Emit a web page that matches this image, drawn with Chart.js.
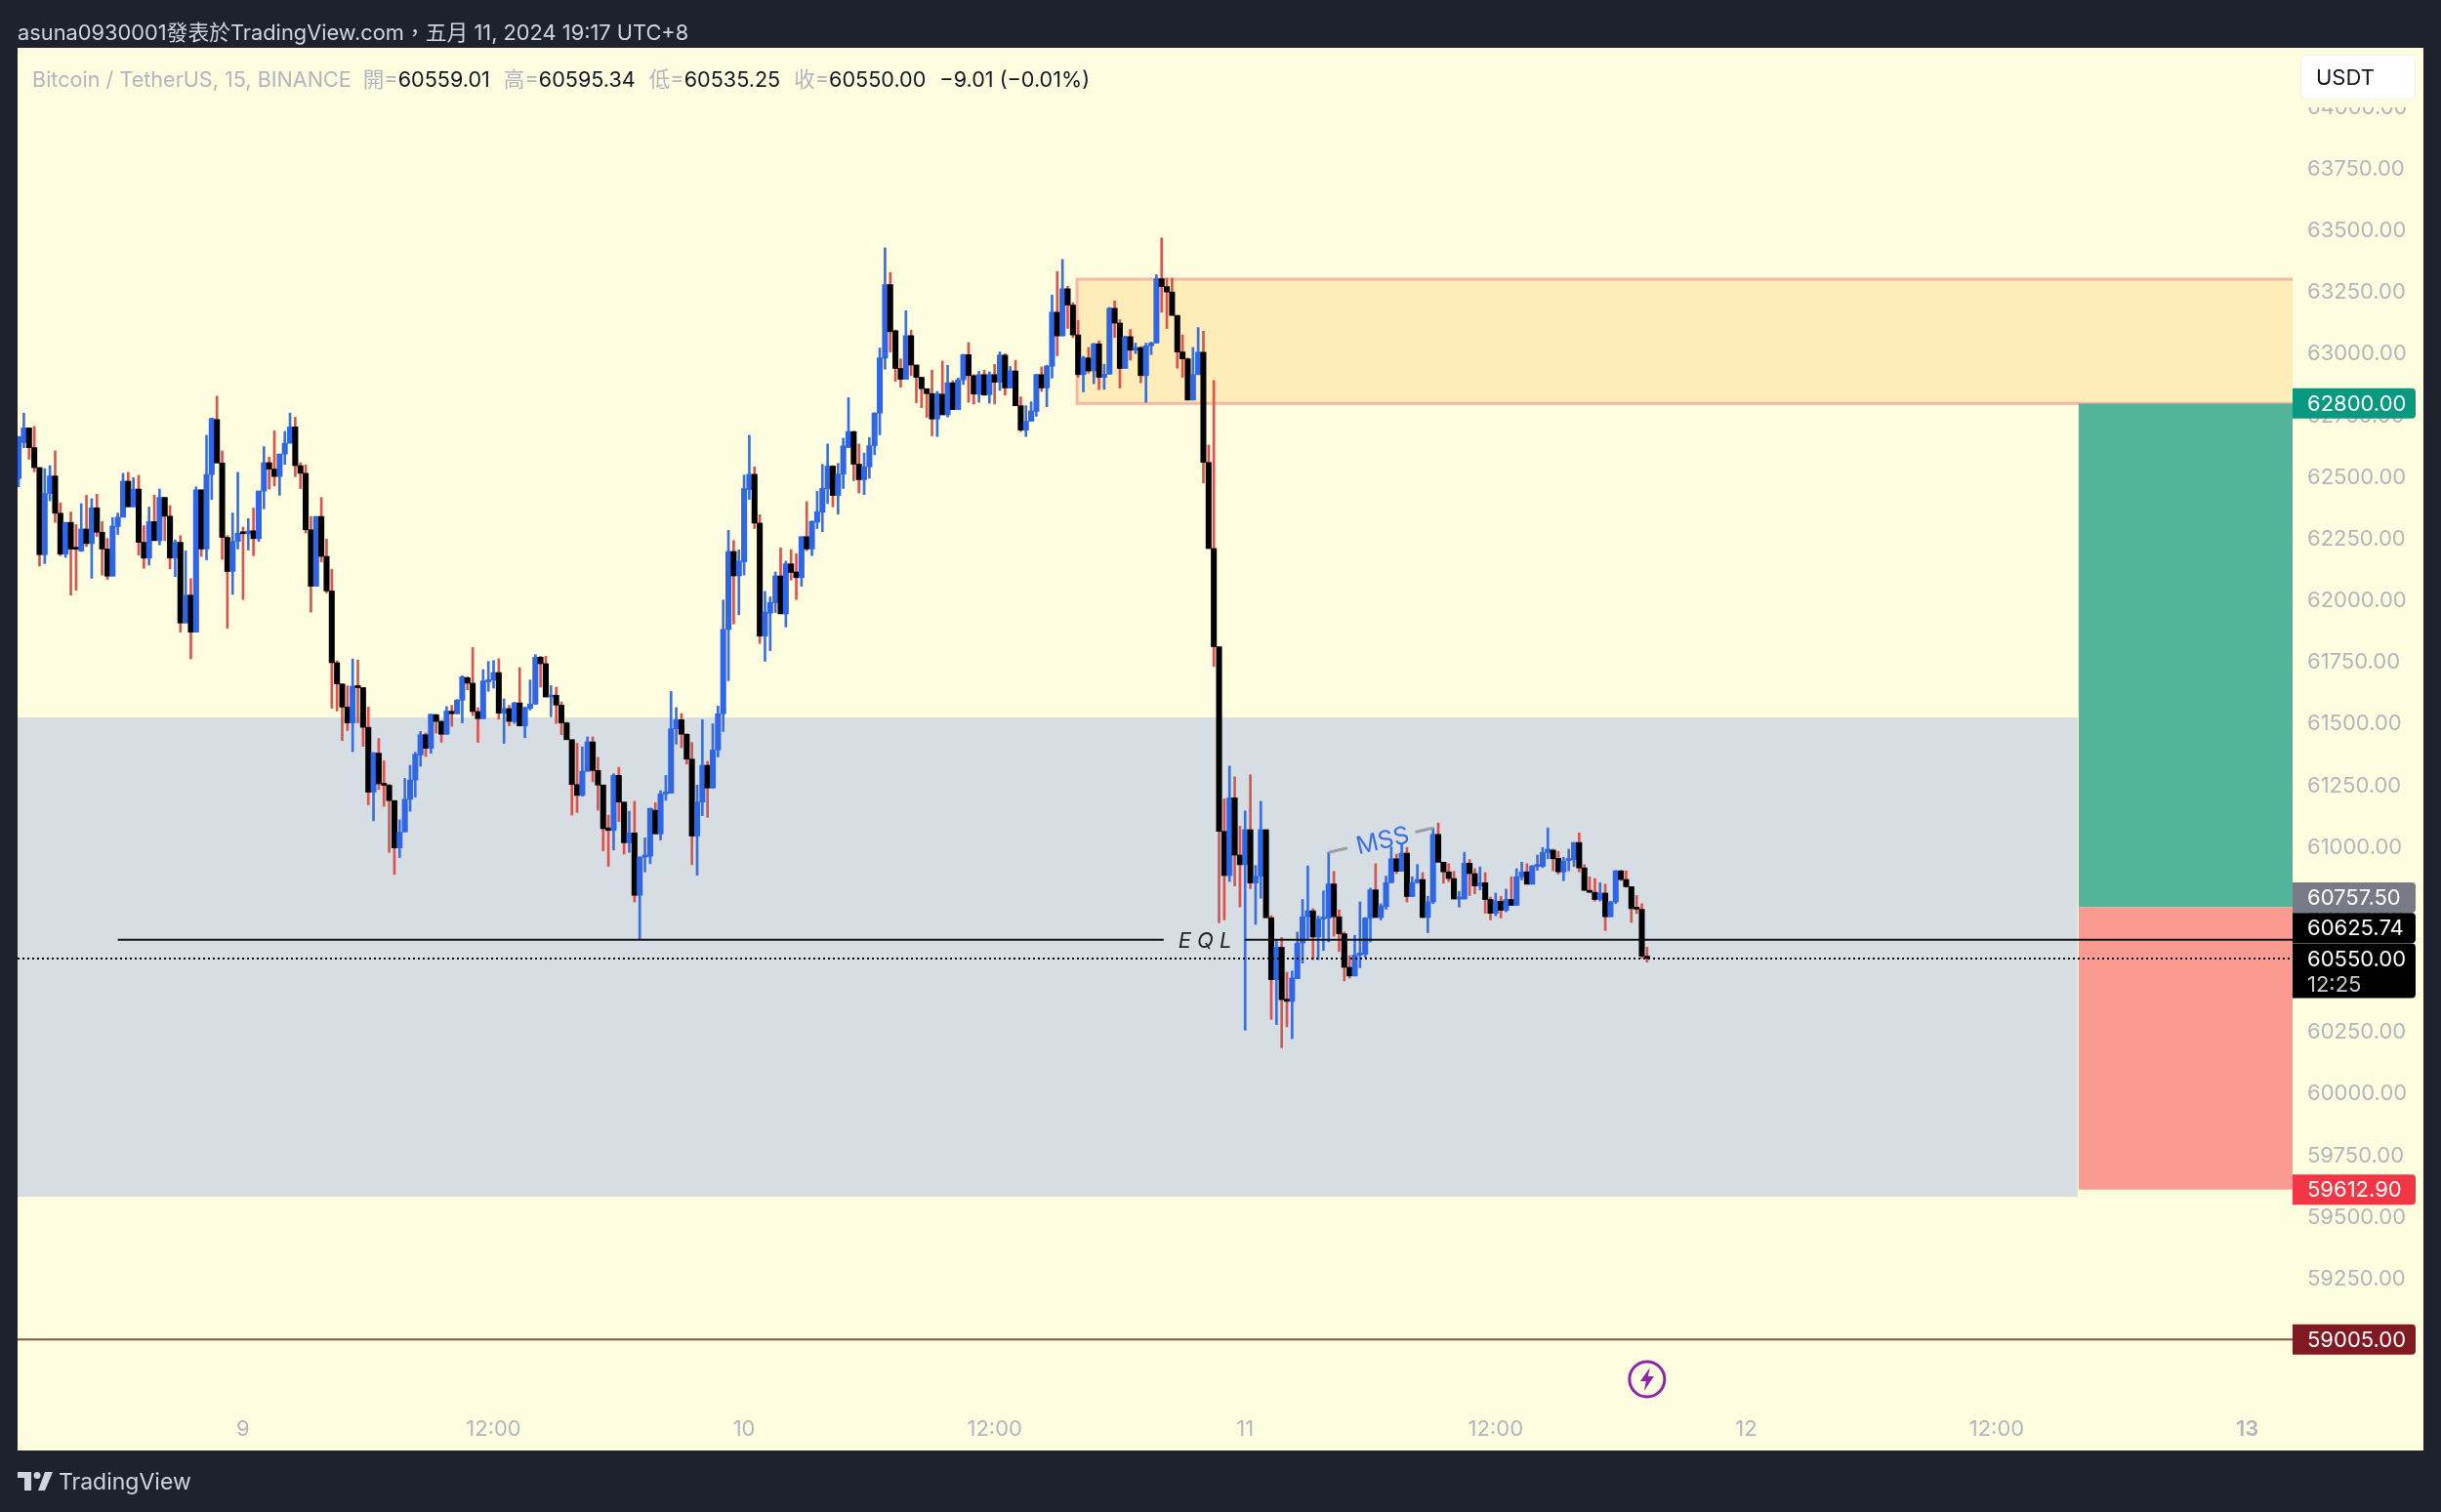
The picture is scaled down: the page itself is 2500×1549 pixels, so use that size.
<!DOCTYPE html>
<html>
<head>
<meta charset="utf-8">
<script src="https://cdn.jsdelivr.net/npm/chart.js@4"></script>
<style>
  html, body { margin: 0; padding: 0; background: #1e222d; }
  body { width: 2500px; height: 1549px; position: relative; overflow: hidden; font-family: Inter, "Noto Sans CJK TC", sans-serif; }
  #panel { position: absolute; left: 18px; top: 49px; width: 2464px; height: 1437px; background: #fffddf; }
  canvas { position: absolute; left: 0; top: 0; }
  #title { position: absolute; left: 18px; top: 19px; font-size: 21.8px; line-height: 28px; color: #d1d4dc; white-space: nowrap; }
  #legend { position: absolute; left: 33px; top: 67px; font-size: 21.6px; line-height: 28px; color: #b2b5be; white-space: nowrap; }
  #legend b { font-weight: 400; color: #131722; }
  #legend span { margin-left: 12px; }
  #legend span + span { margin-left: 14px; }
  #unit { position: absolute; left: 2356px; top: 56px; width: 116px; height: 44px; background: #fff; border: 1px solid #f0f3e6; border-radius: 6px; font-size: 22px; line-height: 44px; color: #131722; text-indent: 15px; box-shadow: 0 8px 0 #fffddf; }
  #footer { position: absolute; left: 60px; top: 1504px; font-size: 23px; line-height: 28px; color: #d1d4dc; }
  #logo { position: absolute; left: 18px; top: 1508px; }
</style>
</head>
<body>
<div id="panel"></div>
<canvas id="chart" width="2500" height="1549"></canvas>
<div id="title">asuna0930001發表於TradingView.com，五月 11, 2024 19:17 UTC+8</div>
<div id="legend">Bitcoin / TetherUS, 15, BINANCE<span>開=<b>60559.01</b></span><span>高=<b>60595.34</b></span><span>低=<b>60535.25</b></span><span>收=<b>60550.00</b></span><span><b>−9.01 (−0.01%)</b></span></div>
<div id="unit">USDT</div>
<svg id="logo" width="36" height="19" viewBox="0 0 36 19" fill="#d1d4dc"><path d="M14 0H0v6h7v13h7V0Zm14 19h-7l7-19h8l-8 19Z"/><circle cx="20" cy="3.5" r="3.5"/></svg>
<div id="footer">TradingView</div>
<script>
// candles, 15 min each. index 0 = 9th 00:00, first candle on screen is -43
const firstCandle = -43;
const opens = [
  62496,62642,62701,62621,62540,62187,62435,62506,62355,62189,
  62318,62214,62202,62291,62232,62377,62278,62210,62100,62301,
  62339,62485,62381,62453,62237,62173,62321,62244,62419,62343,
  62173,62237,61910,62023,61873,62450,62210,62512,62735,62559,
  62257,62119,62241,
  62276,62272,62284,62252,62445,62560,62534,62504,62595,62639,
  62705,62548,62517,62288,62059,62342,62180,62040,61749,61663,
  61569,61505,61654,61648,61487,61224,61382,61258,61252,61190,
  60998,61063,61195,61273,61375,61457,61402,61538,61511,61459,
  61552,61542,61597,61688,61666,61551,61522,61672,61679,61709,
  61544,61563,61511,61586,61493,61564,61581,61771,61745,61610,
  61617,61577,61505,61437,61255,61211,61309,61428,61312,61253,
  61079,61069,61292,61184,61019,61059,60806,60961,60964,61151,
  61055,61217,61220,61481,61518,61459,61358,61046,61184,61333,
  61241,61395,61542,61884,62200,62101,62158,62451,62513,62315,
  61857,61950,61992,62101,61947,62150,62117,62094,62260,62210,
  62319,62359,62454,62546,62427,62514,62622,62686,62554,62491,
  62543,62629,62761,62984,63282,63095,62942,62898,63075,62956,
  62906,62860,62840,62737,62838,62754,62884,62775,62896,62998,
  62913,62838,62917,62836,62917,62886,62996,62863,62932,62791,
  62692,62728,62768,62917,62863,62951,63170,63074,63265,63199,
  63078,62917,62985,62932,63042,62906,62919,63186,63126,62942,
  63071,63016,63027,62913,63034,63045,63306,63274,63252,63157,
  63009,62981,62814,62917,63008,62561,62212,61814,61065,60886,
  61201,60969,60930,61072,60856,60883,61072,60715,60464,60595,
  60385,60376,60468,60613,60719,60743,60637,60710,60714,60852,
  60719,60650,60514,60479,60564,60567,60714,60828,60716,60760,
  60857,60954,60903,60977,60801,60857,60870,60716,60779,61053,
  60940,60901,60874,60791,60791,60936,60894,60844,60857,60789,
  60733,60782,60745,60789,60765,60881,60901,60851,60923,60923,
  60980,60989,60956,60901,60947,60950,61020,60917,60826,60818,
  60789,60815,60719,60779,60905,60870,60841,60754,60749,60559.01
];
const highs = [
  62666,62761,62701,62707,62540,62536,62548,62608,62397,62318,
  62360,62309,62394,62428,62414,62432,62321,62253,62337,62356,
  62517,62521,62499,62509,62305,62380,62428,62453,62419,62386,
  62247,62264,62202,62090,62462,62450,62671,62741,62830,62608,
  62264,62356,62521,
  62299,62333,62376,62445,62625,62582,62689,62595,62687,62761,
  62744,62560,62551,62342,62342,62419,62250,62128,61757,61663,
  61655,61764,61760,61648,61569,61385,61442,61351,61256,61190,
  61112,61280,61333,61386,61470,61464,61540,61540,61513,61571,
  61576,61600,61696,61692,61811,61567,61721,61754,61758,61765,
  61602,61576,61589,61729,61569,61679,61782,61775,61775,61656,
  61650,61590,61508,61437,61422,61408,61448,61448,61365,61253,
  61131,61299,61325,61184,61147,61187,60963,61039,61160,61182,
  61230,61292,61633,61567,61543,61461,61426,61253,61518,61349,
  61501,61573,62003,62286,62244,62207,62510,62671,62543,62349,
  62038,62016,62117,62214,62161,62207,62191,62260,62402,62324,
  62444,62553,62636,62548,62557,62659,62824,62688,62636,62599,
  62662,62763,63025,63431,63331,63098,62981,63176,63097,62956,
  62906,62860,62935,62849,62972,62955,62893,62903,63000,63047,
  62917,62930,62935,62928,62959,63009,63002,62950,62975,62827,
  62791,62807,62919,62948,62955,63240,63335,63384,63275,63209,
  63137,62992,63027,63044,63054,62959,63190,63216,63140,63073,
  63100,63045,63031,63045,63049,63322,63471,63308,63308,63157,
  63078,62985,63027,63108,63093,62632,62893,61814,61197,61330,
  61286,61086,61148,61295,60927,61187,61072,60724,60623,60635,
  60494,60499,60657,60789,60925,60752,60722,60824,60980,60903,
  60747,60657,60562,60644,60779,60716,60835,60934,60772,60884,
  61002,60973,61013,61000,60881,60931,60898,60802,61079,61099,
  60940,60934,60903,60822,60980,60951,60914,60921,60898,60799,
  60815,60802,60831,60881,60914,60940,60934,60927,60969,61000,
  61079,60993,60984,60960,60993,61020,61059,60930,60881,60874,
  60857,60851,60782,60907,60907,60905,60841,60805,60772,60595.34
];
const lows = [
  62462,62621,62574,62523,62141,62151,62405,62318,62183,62176,
  62023,62043,62200,62220,62091,62261,62104,62087,62100,62269,
  62339,62381,62381,62185,62132,62145,62244,62227,62244,62130,
  62098,61873,61910,61765,61873,62180,62166,62411,62559,62168,
  61889,62026,62210,
  62005,62206,62183,62241,62373,62453,62466,62428,62553,62639,
  62503,62455,62275,61954,62059,62158,62032,61565,61553,61433,
  61474,61388,61505,61410,61173,61108,61235,61167,60980,60891,
  60959,61063,61147,61204,61329,61369,61382,61464,61426,61459,
  61491,61542,61505,61639,61534,61426,61522,61633,61646,61520,
  61422,61493,61503,61493,61445,61557,61581,61650,61610,61530,
  61503,61457,61437,61131,61142,61208,61309,61266,61151,60986,
  60924,60990,61105,60973,60980,60779,60626,60901,60934,61055,
  61030,61191,61220,61419,61404,61338,60930,60887,61129,61122,
  61241,61367,61470,61676,61906,61943,62104,62411,62293,61827,
  61755,61798,61952,61947,61894,62084,62005,62059,62203,62183,
  62293,62280,62394,62381,62352,62455,62622,62487,62437,62431,
  62497,62592,62673,62939,63009,62890,62866,62898,62913,62803,
  62783,62744,62669,62666,62754,62745,62775,62775,62877,62805,
  62798,62805,62834,62801,62798,62853,62834,62863,62791,62686,
  62666,62728,62748,62849,62787,62903,62993,63074,63104,63067,
  62906,62847,62923,62880,62856,62857,62919,63068,62863,62942,
  62976,63002,62884,62805,62998,63045,63170,63104,63157,62943,
  62906,62814,62814,62917,62478,62212,61734,60694,60706,60862,
  60844,60759,60259,60833,60688,60794,60715,60303,60282,60188,
  60273,60225,60468,60531,60630,60545,60545,60582,60617,60640,
  60578,60459,60470,60479,60512,60554,60617,60716,60706,60749,
  60857,60894,60903,60779,60801,60855,60716,60654,60772,60940,
  60855,60861,60791,60758,60791,60805,60812,60828,60733,60706,
  60723,60714,60739,60765,60765,60868,60851,60851,60907,60918,
  60954,60905,60892,60865,60905,60923,60901,60826,60818,60782,
  60782,60663,60719,60772,60865,60838,60696,60732,60551,60535.25
];
const closes = [
  62666,62701,62621,62540,62187,62435,62506,62355,62189,62318,
  62210,62209,62291,62232,62377,62278,62210,62100,62303,62339,
  62485,62381,62453,62237,62173,62321,62244,62419,62343,62173,
  62237,61910,62023,61873,62450,62210,62512,62739,62559,62257,
  62119,62241,62274,
  62272,62283,62252,62445,62560,62534,62504,62595,62639,62705,
  62548,62517,62288,62059,62342,62180,62040,61749,61663,61569,
  61505,61654,61648,61487,61224,61384,61258,61252,61190,60998,
  61062,61195,61273,61378,61457,61402,61540,61511,61459,61553,
  61542,61597,61692,61666,61551,61522,61675,61679,61709,61544,
  61563,61511,61586,61493,61567,61581,61771,61745,61610,61617,
  61577,61505,61437,61255,61211,61309,61428,61312,61253,61076,
  61069,61292,61184,61019,61059,60806,60960,60967,61158,61055,
  61217,61224,61481,61518,61459,61358,61046,61184,61333,61241,
  61395,61542,61884,62200,62101,62161,62455,62513,62315,61857,
  61954,61993,62101,61947,62150,62115,62094,62260,62210,62322,
  62361,62456,62546,62427,62514,62628,62686,62554,62491,62543,
  62629,62761,62985,63282,63091,62942,62898,63075,62956,62906,
  62860,62840,62737,62840,62754,62884,62775,62896,62998,62913,
  62838,62917,62834,62917,62886,62996,62863,62932,62791,62692,
  62728,62770,62917,62863,62952,63170,63074,63265,63199,63078,
  62917,62985,62932,63042,62906,62919,63186,63126,62942,63071,
  63016,63027,62913,63034,63045,63306,63274,63252,63157,63009,
  62981,62814,62917,63008,62561,62212,61814,61065,60886,61201,
  60969,60930,61072,60856,60883,61072,60715,60464,60595,60383,
  60376,60471,60611,60719,60743,60637,60710,60714,60852,60719,
  60650,60514,60479,60564,60571,60714,60828,60716,60762,60857,
  60954,60903,60977,60801,60857,60870,60716,60779,61053,60940,
  60901,60874,60791,60795,60936,60894,60844,60857,60789,60733,
  60782,60745,60789,60765,60881,60901,60851,60925,60931,60980,
  60993,60954,60901,60944,60954,61020,60917,60826,60818,60789,
  60815,60719,60779,60905,60870,60841,60752,60750,60559,60550.00
];

const xTickValues = [0, 48, 96, 144, 192, 240, 288, 336, 384];
const xTickLabels = ['9', '12:00', '10', '12:00', '11', '12:00', '12', '12:00', '13'];
const yTickValues = [59000, 59250, 59500, 59750, 60000, 60250, 60500, 60750, 61000, 61250, 61500,
  61750, 62000, 62250, 62500, 62750, 63000, 63250, 63500, 63750, 64000];

// drawn objects, in candle index and price
const marketZone = [351.5, 61527, 59584];     // right end, top, bottom
const supplyZone = [159.8, 63304, 62800];     // left end, top, bottom
const longLevels = [351.7, 62800, 60757.5, 59612.9];   // left end, target, entry, stop
const eqlLevel = 60625.74;
const eqlSpan = [-24, 176.4, 192];            // start, gap from, gap to
const lastPrice = 60550;
const lowLevel = 59005;
const mssFrom = [208, 60980];
const mssTo = [228, 61079];

const tagPrices = [62800, 60757.5, 60625.74, 60550, 59612.9, 59005];
const tagColors = ['#089981', '#787b86', '#000000', '#000000', '#f23645', '#801922'];
const tagShift = [0, -10, -12, 0, 0, 0];

const xMin = -43.2, xMax = 392.5;
const yMin = 58737, yMax = 64242;

const candleX = opens.map((v, i) => firstCandle + i);
const isUp = opens.map((v, i) => closes[i] >= v);

const overlays = {
  id: 'overlays',
  beforeDatasetsDraw(chart) {
    const ctx = chart.ctx, x = chart.scales.x, y = chart.scales.y;
    const px = v => x.getPixelForValue(v), py = v => y.getPixelForValue(v);
    const left = chart.chartArea.left, right = chart.chartArea.right + 1;
    ctx.save();
    ctx.fillStyle = '#d6dde3';
    ctx.fillRect(left, py(marketZone[1]), px(marketZone[0]) - left, py(marketZone[2]) - py(marketZone[1]));
    ctx.fillStyle = '#ffedb9';
    ctx.fillRect(px(supplyZone[0]), py(supplyZone[1]), right - px(supplyZone[0]), py(supplyZone[2]) - py(supplyZone[1]));
    // no right edge on the supply box, it runs into the price axis
    ctx.strokeStyle = '#f5b8a4';
    ctx.lineWidth = 3;
    ctx.beginPath();
    ctx.moveTo(right, py(supplyZone[1]));
    ctx.lineTo(px(supplyZone[0]), py(supplyZone[1]));
    ctx.lineTo(px(supplyZone[0]), py(supplyZone[2]));
    ctx.lineTo(right, py(supplyZone[2]));
    ctx.stroke();
    // long position
    const lx = px(longLevels[0]);
    ctx.fillStyle = '#52b59b';
    ctx.fillRect(lx, py(longLevels[1]), right - lx, py(longLevels[2]) - py(longLevels[1]));
    ctx.fillStyle = '#fb9a91';
    ctx.fillRect(lx, py(longLevels[2]), right - lx, py(longLevels[3]) - py(longLevels[2]));
    ctx.restore();
  },
  afterDraw(chart) {
    const ctx = chart.ctx, x = chart.scales.x, y = chart.scales.y;
    const px = v => x.getPixelForValue(v), py = v => y.getPixelForValue(v);
    const left = chart.chartArea.left, right = chart.chartArea.right + 1;
    ctx.save();
    // horizontal levels
    ctx.strokeStyle = '#111';
    ctx.lineWidth = 2;
    ctx.beginPath();
    ctx.moveTo(px(eqlSpan[0]), py(eqlLevel));
    ctx.lineTo(px(eqlSpan[1]), py(eqlLevel));
    ctx.moveTo(px(eqlSpan[2]), py(eqlLevel));
    ctx.lineTo(right, py(eqlLevel));
    ctx.stroke();
    ctx.setLineDash([2, 3]);
    ctx.strokeStyle = '#000';
    ctx.beginPath();
    ctx.moveTo(left, py(lastPrice));
    ctx.lineTo(right, py(lastPrice));
    ctx.stroke();
    ctx.setLineDash([]);
    ctx.strokeStyle = '#7a5c45';
    ctx.beginPath();
    ctx.moveTo(left, py(lowLevel));
    ctx.lineTo(right, py(lowLevel));
    ctx.stroke();

    ctx.fillStyle = '#222';
    ctx.font = 'italic 22px Inter';
    ctx.textAlign = 'center';
    ctx.textBaseline = 'middle';
    ctx.fillText('E Q L', px(184.3), py(eqlLevel) + 2);

    // MSS line with the gap for its text
    const ax = px(mssFrom[0]), ay = py(mssFrom[1]), bx = px(mssTo[0]), by = py(mssTo[1]);
    ctx.strokeStyle = '#9a9ea6';
    ctx.lineWidth = 3;
    ctx.beginPath();
    ctx.moveTo(ax, ay);
    ctx.lineTo(ax + (bx - ax) * 0.18, ay + (by - ay) * 0.18);
    ctx.moveTo(ax + (bx - ax) * 0.83, ay + (by - ay) * 0.83);
    ctx.lineTo(bx, by);
    ctx.stroke();
    ctx.save();
    ctx.translate((ax + bx) / 2 + 2, (ay + by) / 2 + 1);
    ctx.rotate(Math.atan2(by - ay, bx - ax));
    ctx.fillStyle = '#3b6fe0';
    ctx.font = '25px Inter';
    ctx.fillText('MSS', 0, 0);
    ctx.restore();

    // lightning mark under last candle
    const mx = px(269), my = 1413;
    ctx.strokeStyle = '#8e24aa';
    ctx.fillStyle = '#fffddf';
    ctx.lineWidth = 3;
    ctx.beginPath();
    ctx.arc(mx, my, 18, 0, Math.PI * 2);
    ctx.fill();
    ctx.stroke();
    ctx.fillStyle = '#8e24aa';
    ctx.beginPath();
    ctx.moveTo(mx + 3, my - 12);
    ctx.lineTo(mx - 7, my + 2);
    ctx.lineTo(mx - 1, my + 2);
    ctx.lineTo(mx - 3, my + 12);
    ctx.lineTo(mx + 7, my - 3);
    ctx.lineTo(mx + 1, my - 3);
    ctx.closePath();
    ctx.fill();

    // price tags
    ctx.textAlign = 'left';
    ctx.font = '22px Inter';
    tagPrices.forEach((p, i) => {
      const c = py(p) + tagShift[i];
      const h = i === 3 ? 56 : 31;
      ctx.fillStyle = tagColors[i];
      ctx.beginPath();
      ctx.roundRect(right, c - 15.5, 126, h, [0, 4, 4, 0]);
      ctx.fill();
      ctx.fillStyle = '#fff';
      ctx.fillText(p.toFixed(2), 2363, c + 1);
      if (i === 3) {
        ctx.fillStyle = '#c8cad0';
        ctx.fillText('12:25', 2363, c + 27);
      }
    });
    ctx.restore();
  }
};

new Chart(document.getElementById('chart'), {
  type: 'bar',
  data: {
    datasets: [{
      label: 'wick',
      order: 2,
      data: candleX.map((k, i) => ({x: k, y: [lows[i], highs[i]]})),
      backgroundColor: isUp.map(u => u ? '#3a6fdc' : '#d9534f'),
      barThickness: 2
    }, {
      label: 'body',
      order: 1,
      data: candleX.map((k, i) => ({x: k, y: [opens[i], closes[i]]})),
      backgroundColor: isUp.map(u => u ? '#2f66e5' : '#000000'),
      barThickness: 5.4,
      minBarLength: 2
    }]
  },
  options: {
    responsive: false,
    animation: false,
    devicePixelRatio: 1,
    grouped: false,
    layout: {padding: {left: 18, top: 49, right: 0, bottom: 64}},
    plugins: {legend: {display: false}, tooltip: {enabled: false}},
    scales: {
      x: {
        type: 'linear',
        offset: false,
        min: xMin,
        max: xMax,
        grid: {display: false},
        border: {display: false},
        afterFit: s => { s.height = 45; },
        afterBuildTicks: s => { s.ticks = xTickValues.map(v => ({value: v})); },
        ticks: {
          autoSkip: false,
          maxRotation: 0,
          padding: 3,
          color: '#b2b5be',
          font: c => ({family: 'Inter', size: 22, weight: c.tick && c.tick.value === 384 ? '600' : '400'}),
          callback: v => xTickLabels[xTickValues.indexOf(v)]
        }
      },
      y: {
        position: 'right',
        min: yMin,
        max: yMax,
        grid: {display: false},
        border: {display: false},
        afterFit: s => { s.width = 153; },
        afterBuildTicks: s => { s.ticks = yTickValues.map(v => ({value: v})); },
        ticks: {
          autoSkip: false,
          padding: 8,
          color: '#b2b5be',
          font: {family: 'Inter', size: 22},
          callback: v => v.toFixed(2)
        }
      }
    }
  },
  plugins: [overlays]
});
</script>
</body>
</html>
